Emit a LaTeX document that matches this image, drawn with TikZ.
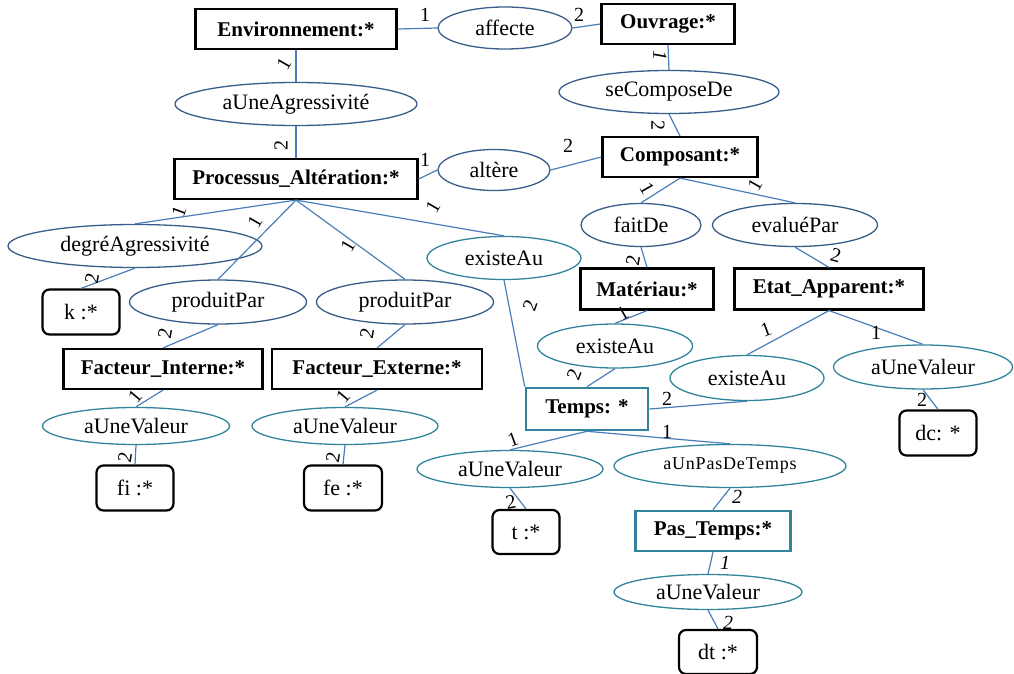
\documentclass[tikz,border=0pt]{standalone}
\usepackage{fontspec}
\setmainfont{Liberation Serif}
\usetikzlibrary{shapes.geometric}
\definecolor{linkblue}{RGB}{74,126,187}
\definecolor{ovalblue}{RGB}{56,93,138}
\definecolor{ovalteal}{RGB}{49,132,155}
\tikzset{
  concept/.style={draw=black, line width=2.2pt, inner sep=0pt, font=\bfseries\fontsize{21}{24}\selectfont},
  timebox/.style={draw=ovalteal, line width=2.6pt, inner sep=0pt, font=\bfseries\fontsize{21}{24}\selectfont},
  valbox/.style={draw=black, line width=2.2pt, rounded corners=7pt, inner sep=0pt, font=\fontsize{22}{24}\selectfont},
  relb/.style={ellipse, draw=ovalblue, line width=1.3pt, inner sep=0pt, font=\fontsize{22}{24}\selectfont},
  relt/.style={ellipse, draw=ovalteal, line width=1.3pt, inner sep=0pt, font=\fontsize{22}{24}\selectfont},
  link/.style={draw=linkblue, line width=1.2pt},
  card/.style={inner sep=0pt, font=\fontsize{20}{22}\selectfont}
}
\begin{document}
\begin{tikzpicture}[x=1pt, y=-1pt]
\useasboundingbox (0,0) rectangle (1014,674);

% concepts
\node[concept, minimum width=201pt, minimum height=40pt] (env) at (296,29) {Environnement:*};
\node[concept, minimum width=133pt, minimum height=40pt] (ouv) at (668,24) {Ouvrage:*};
\node[concept, minimum width=155pt, minimum height=40pt] (comp) at (680,157) {Composant:*};
\node[concept, minimum width=243pt, minimum height=40pt] (proc) at (296,179) {Processus\_Altération:*};
\node[concept, minimum width=199pt, minimum height=40pt] (fint) at (163,369) {Facteur\_Interne:*};
\node[concept, minimum width=210pt, minimum height=40pt] (fext) at (377,369) {Facteur\_Externe:*};
\node[concept, minimum width=133pt, minimum height=41pt] (mat) at (647,289) {Matériau:*};
\node[concept, minimum width=189pt, minimum height=41pt] (etat) at (829,289) {Etat\_Apparent:*};
\node[timebox, minimum width=122pt, minimum height=42pt] (temps) at (587,409) {Temps: *};
\node[timebox, minimum width=155pt, minimum height=40pt] (pas) at (713,531) {Pas\_Temps:*};

% values
\node[valbox, minimum width=77pt, minimum height=45pt] (k) at (81,312) {k :*};
\node[valbox, minimum width=77pt, minimum height=45pt] (fi) at (135,488) {fi :*};
\node[valbox, minimum width=78pt, minimum height=45pt] (fe) at (343,488) {fe :*};
\node[valbox, minimum width=67pt, minimum height=44pt] (t) at (526,532) {t :*};
\node[valbox, minimum width=77pt, minimum height=45pt] (dc) at (938,433) {dc: *};
\node[valbox, minimum width=78pt, minimum height=44pt] (dt) at (718,652) {dt :*};

% relations
\node[relb, minimum width=134pt, minimum height=42pt] (aff) at (505,28) {affecte};
\node[relb, minimum width=220pt, minimum height=43pt] (secomp) at (669,92) {seComposeDe};
\node[relb, minimum width=242pt, minimum height=43pt] (agr) at (296,104) {aUneAgressivité};
\node[relb, minimum width=112pt, minimum height=41pt] (alt) at (494,170) {altère};
\node[relb, minimum width=254pt, minimum height=43pt] (deg) at (135,246) {degréAgressivité};
\node[relb, minimum width=177pt, minimum height=44pt] (prod1) at (218,302) {produitPar};
\node[relb, minimum width=177pt, minimum height=44pt] (prod2) at (405,302) {produitPar};
\node[relb, minimum width=120pt, minimum height=43pt] (fait) at (641,225) {faitDe};
\node[relb, minimum width=165pt, minimum height=43pt] (eval) at (795,225) {evaluéPar};
\node[relt, minimum width=154pt, minimum height=43pt] (exa) at (504,258) {existeAu};
\node[relt, minimum width=155pt, minimum height=44pt] (exb) at (615,346) {existeAu};
\node[relt, minimum width=154pt, minimum height=45pt] (exc) at (747,378) {existeAu};
\node[relt, minimum width=187pt, minimum height=37pt] (vfi) at (136,426) {aUneValeur};
\node[relt, minimum width=186pt, minimum height=37pt] (vfe) at (345,426) {aUneValeur};
\node[relt, minimum width=179pt, minimum height=44pt] (vdc) at (923,367) {aUneValeur};
\node[relt, minimum width=186pt, minimum height=37pt] (vt) at (510,469) {aUneValeur};
\node[relt, minimum width=232pt, minimum height=43pt, font=\fontsize{18}{22}\selectfont\addfontfeature{LetterSpace=4.5}] (pdt) at (730,466) {aUnPasDeTemps};
\node[relt, minimum width=188pt, minimum height=35pt] (vdt) at (708,592) {aUneValeur};

% connectors
\path[link] (env.south) -- (agr.north);
\path[link] (agr.south) -- (proc.north);
\path[link] (env.east) -- (aff.west);
\path[link] (aff.east) -- (ouv.west);
\path[link] (ouv.south) -- (secomp.north);
\path[link] (secomp.south) -- (comp.north);
\path[link] (proc.east) -- (alt.west);
\path[link] (alt.east) -- (comp.west);
\path[link] (comp.south) -- (fait.north);
\path[link] (comp.south) -- (eval.north);
\path[link] (fait.south) -- (mat.north);
\path[link] (eval.south) -- (etat.north);
\path[link] (proc.south) -- (deg.north);
\path[link] (proc.south) -- (prod1.north);
\path[link] (proc.south) -- (prod2.north);
\path[link] (proc.south) -- (exa.north);
\path[link] (deg.south) -- (k.north);
\path[link] (prod1.south) -- (fint.north);
\path[link] (prod2.south) -- (fext.north);
\path[link] (fint.south) -- (vfi.north);
\path[link] (fext.south) -- (vfe.north);
\path[link] (vfi.south) -- (fi.north);
\path[link] (vfe.south) -- (fe.north);
\path[link] (exa.south) -- (temps.north west);
\path[link] (mat.south) -- (exb.north);
\path[link] (exb.south) -- (temps.north);
\path[link] (etat.south) -- (exc.north);
\path[link] (etat.south) -- (vdc.north);
\path[link] (exc.south) -- (temps.east);
\path[link] (vdc.south) -- (dc.north);
\path[link] (temps.south) -- (vt.north);
\path[link] (temps.south) -- (pdt.north);
\path[link] (vt.south) -- (t.north);
\path[link] (pdt.south) -- (pas.north);
\path[link] (pas.south) -- (vdt.north);
\path[link] (vdt.south) -- (dt.north);

% cardinalities
\node[card, rotate=60] (c1) at (284,64) {1};
\node[card, rotate=90] (c2) at (281,145) {2};
\node[card] (c3) at (425,15) {1};
\node[card] (c4) at (579,15) {2};
\node[card, rotate=-90, font=\itshape\fontsize{20}{22}\selectfont] (c5) at (660,56) {1};
\node[card, rotate=-90] (c6) at (658,126) {2};
\node[card] (c7) at (425,160) {1};
\node[card] (c8) at (568,146) {2};
\node[card, rotate=-60] (c9) at (647,189) {1};
\node[card, rotate=60] (c10) at (755,185) {1};
\node[card, rotate=70] (c11) at (179,212) {1};
\node[card, rotate=60] (c12) at (255,222) {1};
\node[card, rotate=60] (c13) at (348,246) {1};
\node[card, rotate=60] (c14) at (433,207) {1};
\node[card, rotate=80] (c15) at (92,278) {2};
\node[card, rotate=80] (c16) at (165,333) {2};
\node[card, rotate=80] (c17) at (367,333) {2};
\node[card, rotate=50] (c18) at (135,396) {1};
\node[card, rotate=50] (c19) at (343,396) {1};
\node[card, rotate=80] (c20) at (125,457) {2};
\node[card, rotate=80] (c21) at (333,457) {2};
\node[card, rotate=70] (c22) at (530,306) {2};
\node[card, rotate=80] (c23) at (633,260) {2};
\node[card, rotate=-15] (c24) at (836,255) {2};
\node[card, rotate=30] (c25) at (623,313) {1};
\node[card, rotate=70] (c26) at (574,375) {2};
\node[card, rotate=20] (c27) at (766,330) {1};
\node[card] (c28) at (876,333) {1};
\node[card] (c29) at (667,399) {2};
\node[card] (c30) at (922,400) {2};
\node[card, rotate=20] (c31) at (513,440) {1};
\node[card] (c32) at (667,432) {1};
\node[card, rotate=10] (c33) at (511,502) {2};
\node[card, font=\itshape\fontsize{20}{22}\selectfont] (c34) at (737,497) {2};
\node[card, font=\itshape\fontsize{20}{22}\selectfont] (c35) at (725,563) {1};
\node[card, font=\itshape\fontsize{20}{22}\selectfont] (c36) at (728,623) {2};
\end{tikzpicture}
\end{document}
